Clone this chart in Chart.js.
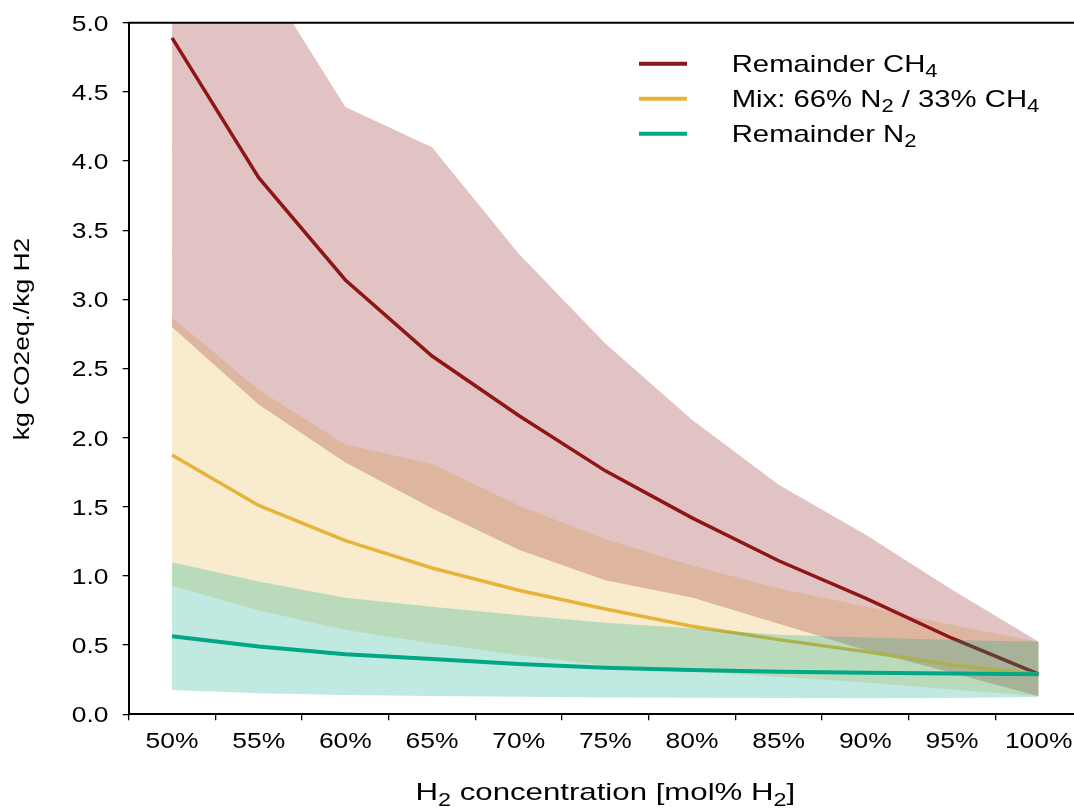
<!DOCTYPE html>
<html lang="en">
<head>
<meta charset="UTF-8" />
<title>CO2 intensity vs H2 concentration</title>
<script src="https://cdn.jsdelivr.net/npm/chart.js@4.4.1/dist/chart.umd.min.js"></script>
<style>
    html, body { margin: 0; padding: 0; background: #fff; overflow: hidden; }
    #wrap { width: 1090px; height: 809px; }
</style>
</head>
<body>
<div id="wrap"><canvas id="myChart"></canvas></div>
<script>
// x categories (mol% H2)
const categories = ['50%', '55%', '60%', '65%', '70%', '75%', '80%', '85%', '90%', '95%', '100%'];

// Remainder CH4: middle line and band
const ch4Mid  = [4.89, 3.88, 3.14, 2.59, 2.16, 1.76, 1.42, 1.11, 0.84, 0.55, 0.29];
const ch4High = [6.30, 5.39, 4.39, 4.10, 3.33, 2.68, 2.13, 1.66, 1.30, 0.90, 0.525];
const ch4Low  = [2.80, 2.24, 1.82, 1.49, 1.19, 0.97, 0.845, 0.655, 0.465, 0.30, 0.13];

// Mix: 66% N2 / 33% CH4
const mixMid  = [1.875, 1.51, 1.255, 1.058, 0.897, 0.761, 0.636, 0.54, 0.453, 0.356, 0.29];
const mixHigh = [2.87, 2.345, 1.95, 1.81, 1.51, 1.265, 1.075, 0.91, 0.78, 0.646, 0.525];
const mixLow  = [0.93, 0.75, 0.61, 0.513, 0.429, 0.351, 0.31, 0.272, 0.229, 0.18, 0.13];

// Remainder N2
const n2Mid  = [0.564, 0.49, 0.434, 0.40, 0.364, 0.337, 0.32, 0.308, 0.30, 0.295, 0.29];
const n2High = [1.10, 0.96, 0.843, 0.778, 0.718, 0.662, 0.622, 0.575, 0.556, 0.537, 0.525];
const n2Low  = [0.175, 0.152, 0.14, 0.132, 0.127, 0.122, 0.12, 0.117, 0.116, 0.118, 0.125];

const ch4Color = '#8e1616';
const mixColor = '#e6b43a';
const n2Color = '#00a886';

const legendItems = [
    { color: ch4Color, parts: [['Remainder CH'], ['4', 1]] },
    { color: mixColor, parts: [['Mix: 66% N'], ['2', 1], [' / 33% CH'], ['4', 1]] },
    { color: n2Color, parts: [['Remainder N'], ['2', 1]] }
];

const FONT = '"Liberation Sans", Arial, Helvetica, sans-serif';

function drawRich(ctx, parts, x, y, size, align, subDrop, stretch, angle) {
    ctx.save();
    ctx.translate(x, y);
    if (angle) ctx.rotate(angle);
    ctx.scale(stretch, 1);
    let w = 0;
    parts.forEach(p => {
        ctx.font = (p[1] ? size * 0.75 : size) + 'px ' + FONT;
        w += ctx.measureText(p[0]).width;
    });
    let cx = align === 'center' ? -w / 2 : (align === 'right' ? -w : 0);
    ctx.textAlign = 'left';
    ctx.textBaseline = 'alphabetic';
    ctx.fillStyle = '#000';
    parts.forEach(p => {
        ctx.font = (p[1] ? size * 0.75 : size) + 'px ' + FONT;
        ctx.fillText(p[0], cx, p[1] ? subDrop : 0);
        cx += ctx.measureText(p[0]).width;
    });
    ctx.restore();
}

const decorations = {
    id: 'decorations',
    beforeDatasetsDraw(chart) {
        const a = chart.chartArea;
        chart.ctx.save();
        chart.ctx.beginPath();
        chart.ctx.rect(a.left, a.top, a.right - a.left, a.bottom - a.top);
        chart.ctx.clip();
    },
    afterDatasetsDraw(chart) {
        chart.ctx.restore();
    },
    afterDraw(chart) {
        const { ctx, chartArea, scales } = chart;
        // top frame line
        ctx.save();
        ctx.strokeStyle = '#000';
        ctx.lineWidth = 2;
        ctx.beginPath();
        ctx.moveTo(chartArea.left - 1, chartArea.top);
        ctx.lineTo(chartArea.right, chartArea.top);
        ctx.stroke();
        ctx.restore();

        // tick labels
        scales.x.ticks.forEach((t, i) => {
            drawRich(ctx, [[scales.x.getLabelForValue(t.value)]], scales.x.getPixelForTick(i), 748, 22, 'center', 0, 1.2);
        });
        scales.y.ticks.forEach((t, i) => {
            drawRich(ctx, [[t.value.toFixed(1)]], 108.5, scales.y.getPixelForTick(i) + 7.9, 22, 'right', 0, 1.2);
        });

        // axis titles
        drawRich(ctx, [['H'], ['2', 1], [' concentration [mol% H'], ['2', 1], [']']],
            (chartArea.left + chartArea.right) / 2, 800, 24, 'center', 6, 1.3);
        drawRich(ctx, [['kg CO2eq./kg H2']], 29, 339, 22, 'center', 0, 1.2, -Math.PI / 2);

        // legend
        legendItems.forEach((item, i) => {
            const base = 71.7 + i * 35;
            ctx.save();
            ctx.strokeStyle = item.color;
            ctx.lineWidth = 4;
            ctx.beginPath();
            ctx.moveTo(639, base - 8);
            ctx.lineTo(687, base - 8);
            ctx.stroke();
            ctx.restore();
            drawRich(ctx, item.parts, 731.7, base, 24, 'left', 5, 1.22);
        });
    }
};

function bandSet(label, data, color, order, fillTo) {
    return {
        label: label,
        data: data,
        fill: fillTo,
        backgroundColor: color,
        borderColor: 'transparent',
        borderWidth: 0,
        pointRadius: 0,
        tension: 0,
        order: order
    };
}

function lineSet(label, data, color, width, order) {
    return {
        label: label,
        data: data,
        fill: false,
        borderColor: color,
        backgroundColor: color,
        borderWidth: width,
        pointRadius: 0,
        tension: 0,
        order: order
    };
}

const ctx = document.getElementById('myChart').getContext('2d');
const chart = new Chart(ctx, {
    type: 'line',
    data: {
        labels: categories,
        datasets: [
            bandSet('Mix high', mixHigh, 'rgba(230,180,58,0.25)', 6, '+1'),
            bandSet('Mix low', mixLow, 'transparent', 6, false),
            bandSet('CH4 high', ch4High, 'rgba(142,22,22,0.26)', 5, '+1'),
            bandSet('CH4 low', ch4Low, 'transparent', 5, false),
            lineSet('Remainder CH4', ch4Mid, ch4Color, 3.5, 4),
            lineSet('Mix: 66% N2 / 33% CH4', mixMid, mixColor, 3.5, 3),
            bandSet('N2 high', n2High, 'rgba(0,168,134,0.25)', 2, '+1'),
            bandSet('N2 low', n2Low, 'transparent', 2, false),
            lineSet('Remainder N2', n2Mid, n2Color, 4, 1)
        ]
    },
    options: {
        responsive: true,
        maintainAspectRatio: false,
        animation: false,
        layout: { padding: { top: 22.7, right: 8, left: 0, bottom: 0 } },
        plugins: {
            legend: { display: false },
            tooltip: { enabled: false }
        },
        scales: {
            x: {
                type: 'category',
                offset: true,
                border: { display: true, color: '#000', width: 2 },
                grid: { display: true, drawOnChartArea: false, drawTicks: true, offset: true, tickLength: 6, color: '#000', lineWidth: 1.3 },
                ticks: { display: false, autoSkip: false },
                afterFit(scale) { scale.height = 94.7; }
            },
            y: {
                min: 0,
                max: 5,
                border: { display: true, color: '#000', width: 2 },
                grid: { display: true, drawOnChartArea: false, drawTicks: true, tickLength: 6, color: '#000', lineWidth: 1.3 },
                ticks: { display: false, stepSize: 0.5 },
                afterFit(scale) { scale.width = 128.7; }
            }
        }
    },
    plugins: [decorations]
});
</script>
</body>
</html>
